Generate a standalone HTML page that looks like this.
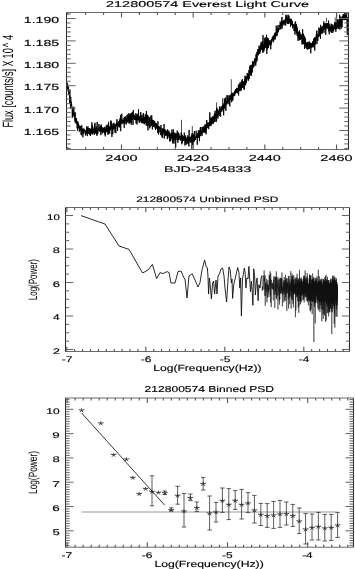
<!DOCTYPE html>
<html><head><meta charset="utf-8"><title>212800574 Everest Light Curve</title>
<style>html,body{margin:0;padding:0;background:#fff;width:355px;height:569px;overflow:hidden;position:relative}
svg text{font-family:"Liberation Sans", sans-serif;text-rendering:geometricPrecision}</style></head>
<body>
<svg width="355" height="569" viewBox="0 0 355 569" style="position:absolute;left:0;top:0;filter:grayscale(1)" font-family='"Liberation Sans", sans-serif'>
<rect width="355" height="569" fill="#fff"/>
<defs><clipPath id="c1"><rect x="67" y="13" width="281" height="136"/></clipPath></defs>
<g clip-path="url(#c1)">
<polyline points="66.80,81.60 67.02,84.13 67.24,83.09 67.46,87.42 67.68,84.53 67.90,89.93 68.12,85.83 68.34,91.77 68.56,87.67 68.78,94.58 69.00,92.83 69.22,95.32 69.44,92.20 69.66,102.76 69.88,89.59 70.10,102.70 70.32,99.84 70.54,108.48 70.76,96.85 70.98,104.72 71.20,101.62 71.42,105.79 71.64,104.10 71.86,107.78 72.08,106.77 72.30,117.65 72.52,107.71 72.74,117.24 72.96,110.31 73.18,114.34 73.40,112.94 73.62,114.29 73.84,106.81 74.06,116.17 74.28,113.41 74.50,116.72 74.72,113.47 74.94,121.55 75.16,112.17 75.38,122.65 75.60,118.15 75.82,122.91 76.04,118.72 76.26,123.83 76.48,117.98 76.70,123.19 76.92,121.12 77.14,128.28 77.36,121.29 77.58,130.66 77.80,121.39 78.02,127.08 78.24,122.83 78.46,128.30 78.68,124.16 78.90,127.69 79.12,125.78 79.34,131.72 79.56,127.20 79.78,129.29 80.00,125.83 80.22,130.89 80.44,126.58 80.66,129.97 80.88,127.06 81.10,134.76 81.32,129.37 81.54,135.31 81.76,125.28 81.98,131.89 82.20,128.64 82.42,130.96 82.64,131.52 82.86,137.29 83.08,128.74 83.30,132.66 83.52,129.96 83.74,134.12 83.96,128.56 84.18,131.91 84.40,129.46 84.62,131.95 84.84,131.53 85.06,132.49 85.28,131.28 85.50,135.46 85.72,130.30 85.94,132.23 86.16,130.13 86.38,133.56 86.60,126.51 86.82,134.12 87.04,128.12 87.26,136.12 87.48,128.02 87.70,131.32 87.92,126.40 88.14,131.30 88.36,130.57 88.58,133.90 88.80,127.98 89.02,131.35 89.24,129.99 89.46,134.50 89.68,128.24 89.90,132.66 90.12,129.26 90.34,136.04 90.56,130.30 90.78,134.66 91.00,128.53 91.22,132.72 91.44,128.83 91.66,133.14 91.88,122.36 92.10,133.81 92.32,125.49 92.54,134.45 92.76,130.00 92.98,133.53 93.20,129.08 93.42,132.69 93.64,131.07 93.86,131.36 94.08,127.41 94.30,134.70 94.52,123.93 94.74,130.99 94.96,122.75 95.18,133.10 95.40,128.13 95.62,132.58 95.84,129.39 96.06,133.81 96.28,126.60 96.50,134.46 96.72,127.89 96.94,135.82 97.16,121.97 97.38,134.10 97.60,129.49 97.82,133.87 98.04,129.95 98.26,130.47 98.48,129.02 98.70,130.77 98.92,123.93 99.14,130.38 99.36,127.38 99.58,131.69 99.80,129.89 100.02,131.15 100.24,125.91 100.46,131.21 100.68,125.91 100.90,135.13 101.12,124.52 101.34,131.85 101.56,125.66 101.78,129.76 102.00,130.33 102.22,133.49 102.44,127.44 102.66,133.00 102.88,130.25 103.10,129.71 103.32,127.93 103.54,132.24 103.76,127.96 103.98,131.78 104.20,127.44 104.42,132.75 104.64,128.35 104.86,134.67 105.08,126.65 105.30,136.36 105.52,128.98 105.74,130.36 105.96,129.28 106.18,132.26 106.40,125.54 106.62,131.29 106.84,127.05 107.06,131.81 107.28,124.55 107.50,131.10 107.72,128.99 107.94,134.83 108.16,126.35 108.38,133.56 108.60,121.88 108.82,132.28 109.04,128.98 109.26,132.28 109.48,126.90 109.70,133.75 109.92,126.03 110.14,130.36 110.36,128.83 110.58,129.30 110.80,120.45 111.02,128.49 111.24,121.50 111.46,128.79 111.68,125.09 111.90,136.95 112.12,125.13 112.34,129.41 112.56,126.56 112.78,134.16 113.00,123.46 113.22,129.08 113.44,126.72 113.66,129.30 113.88,122.76 114.10,128.72 114.32,124.96 114.54,128.14 114.76,124.04 114.98,132.45 115.20,127.01 115.42,129.49 115.64,124.23 115.86,133.15 116.08,123.97 116.30,125.88 116.52,122.14 116.74,125.65 116.96,119.23 117.18,126.68 117.40,124.91 117.62,130.85 117.84,123.27 118.06,127.04 118.28,121.43 118.50,125.62 118.72,121.80 118.94,124.55 119.16,122.94 119.38,127.46 119.60,119.94 119.82,124.96 120.04,118.53 120.26,126.12 120.48,114.95 120.70,131.17 120.92,119.82 121.14,123.02 121.36,119.62 121.58,122.90 121.80,113.69 122.02,124.26 122.24,120.14 122.46,122.16 122.68,119.54 122.90,122.13 123.12,120.37 123.34,122.83 123.56,120.02 123.78,123.74 124.00,117.65 124.22,127.80 124.44,119.37 124.66,121.59 124.88,117.14 125.10,123.88 125.32,116.28 125.54,121.32 125.76,118.94 125.98,120.85 126.20,117.67 126.42,124.41 126.64,120.03 126.86,121.48 127.08,114.76 127.30,121.48 127.52,114.75 127.74,122.51 127.96,117.47 128.18,121.46 128.40,115.97 128.62,121.78 128.84,113.11 129.06,123.71 129.28,114.51 129.50,122.79 129.72,118.41 129.94,120.31 130.16,114.28 130.38,122.05 130.60,113.59 130.82,123.02 131.04,118.96 131.26,124.70 131.48,112.90 131.70,119.91 131.92,118.75 132.14,118.72 132.36,112.05 132.58,119.45 132.80,116.83 133.02,124.89 133.24,110.05 133.46,118.18 133.68,113.89 133.90,119.09 134.12,116.53 134.34,119.79 134.56,115.07 134.78,119.27 135.00,116.08 135.22,120.13 135.44,115.85 135.66,119.57 135.88,113.00 136.10,123.35 136.32,117.14 136.54,120.06 136.76,114.73 136.98,124.47 137.20,115.61 137.42,120.25 137.64,113.92 137.86,117.09 138.08,114.28 138.30,120.17 138.52,109.32 138.74,120.24 138.96,116.81 139.18,122.93 139.40,116.95 139.62,121.32 139.84,115.88 140.06,121.55 140.28,116.73 140.50,120.64 140.72,111.99 140.94,121.26 141.16,115.96 141.38,123.12 141.60,116.99 141.82,119.66 142.04,114.69 142.26,122.14 142.48,118.11 142.70,123.18 142.92,118.91 143.14,123.33 143.36,112.99 143.58,119.78 143.80,114.51 144.02,123.57 144.24,116.84 144.46,124.20 144.68,117.45 144.90,123.15 145.12,119.01 145.34,122.89 145.56,113.85 145.78,122.35 146.00,116.70 146.22,125.59 146.44,111.01 146.66,122.83 146.88,115.53 147.10,125.94 147.32,115.44 147.54,123.72 147.76,114.90 147.98,130.43 148.20,116.70 148.42,125.31 148.64,122.12 148.86,123.72 149.08,120.47 149.30,123.72 149.52,117.31 149.74,128.37 149.96,121.52 150.18,126.98 150.40,121.66 150.62,123.21 150.84,115.74 151.06,124.36 151.28,119.71 151.50,125.68 151.72,115.32 151.94,125.22 152.16,121.73 152.38,129.43 152.60,119.72 152.82,126.25 153.04,121.71 153.26,126.97 153.48,120.19 153.70,125.02 153.92,123.43 154.14,126.03 154.36,120.92 154.58,127.35 154.80,121.41 155.02,125.35 155.24,123.62 155.46,130.01 155.68,122.97 155.90,126.40 156.12,123.69 156.34,128.77 156.56,123.58 156.78,126.49 157.00,125.87 157.22,128.02 157.44,125.32 157.66,132.87 157.88,121.23 158.10,127.70 158.32,126.99 158.54,134.54 158.76,126.08 158.98,127.95 159.20,127.00 159.42,129.06 159.64,126.64 159.86,132.42 160.08,127.65 160.30,130.37 160.52,127.88 160.74,134.62 160.96,124.96 161.18,135.35 161.40,130.82 161.62,129.69 161.84,129.81 162.06,137.28 162.28,128.14 162.50,137.73 162.72,130.95 162.94,134.32 163.16,128.78 163.38,133.14 163.60,130.52 163.82,131.90 164.04,124.09 164.26,138.58 164.48,130.30 164.70,133.35 164.92,129.04 165.14,133.64 165.36,130.61 165.58,135.46 165.80,132.66 166.02,136.05 166.24,132.92 166.46,134.92 166.68,130.58 166.90,133.03 167.12,134.37 167.34,139.06 167.56,129.34 167.78,138.26 168.00,133.19 168.22,136.43 168.44,132.19 168.66,135.52 168.88,130.52 169.10,135.98 169.32,132.45 169.54,140.66 169.76,133.54 169.98,141.54 170.20,134.16 170.42,140.80 170.64,134.39 170.86,140.58 171.08,132.69 171.30,136.34 171.52,134.44 171.74,138.38 171.96,129.53 172.18,138.06 172.40,132.91 172.62,143.37 172.84,133.85 173.06,142.12 173.28,129.38 173.50,140.54 173.72,133.70 173.94,143.68 174.16,132.40 174.38,139.27 174.60,135.73 174.82,140.25 175.04,133.61 175.26,138.25 175.48,133.57 175.70,147.20 175.92,133.37 176.14,138.38 176.36,136.13 176.58,136.87 176.80,133.66 177.02,140.05 177.24,130.52 177.46,138.79 177.68,135.84 177.90,142.76 178.12,132.26 178.34,140.00 178.56,134.77 178.78,140.03 179.00,133.61 179.22,137.89 179.44,137.11 179.66,139.02 179.88,136.02 180.10,139.45 180.32,138.71 180.54,140.52 180.76,135.92 180.98,139.12 181.20,132.57 181.42,139.29 181.64,133.96 181.86,144.26 182.08,137.33 182.30,142.54 182.52,135.23 182.74,141.14 182.96,137.58 183.18,140.81 183.40,137.13 183.62,140.37 183.84,136.14 184.06,140.11 184.28,132.62 184.50,138.57 184.72,137.97 184.94,145.46 185.16,137.86 185.38,143.10 185.60,135.44 185.82,140.37 186.04,138.14 186.26,144.68 186.48,139.34 186.70,139.92 186.92,137.47 187.14,141.00 187.36,139.60 187.58,143.49 187.80,135.35 188.02,141.27 188.24,138.44 188.46,144.10 188.68,136.83 188.90,146.40 189.12,129.98 189.34,141.03 189.56,137.04 189.78,141.09 190.00,136.90 190.22,142.57 190.44,137.41 190.66,139.43 190.88,138.46 191.10,142.20 191.32,135.88 191.54,140.72 191.76,134.59 191.98,143.00 192.20,132.97 192.42,137.70 192.64,133.59 192.86,145.11 193.08,137.36 193.30,140.47 193.52,134.92 193.74,142.05 193.96,133.89 194.18,141.22 194.40,131.06 194.62,140.69 194.84,135.98 195.06,138.73 195.28,136.89 195.50,139.92 195.72,137.37 195.94,137.90 196.16,130.68 196.38,137.77 196.60,135.58 196.82,135.76 197.04,135.04 197.26,144.66 197.48,134.65 197.70,137.06 197.92,132.89 198.14,137.81 198.36,130.36 198.58,137.96 198.80,133.40 199.02,134.91 199.24,133.10 199.46,141.18 199.68,130.18 199.90,135.62 200.12,134.60 200.34,136.23 200.56,127.18 200.78,135.93 201.00,127.08 201.22,134.21 201.44,131.95 201.66,133.87 201.88,130.51 202.10,135.89 202.32,130.41 202.54,131.14 202.76,126.87 202.98,131.79 203.20,127.27 203.42,130.43 203.64,126.39 203.86,132.69 204.08,128.66 204.30,132.71 204.52,127.47 204.74,131.84 204.96,124.43 205.18,128.82 205.40,125.33 205.62,132.49 205.84,124.44 206.06,134.31 206.28,127.03 206.50,129.97 206.72,119.99 206.94,128.14 207.16,125.48 207.38,125.87 207.60,122.86 207.82,127.37 208.04,122.39 208.26,127.34 208.48,123.21 208.70,129.09 208.92,124.52 209.14,124.20 209.36,121.91 209.58,126.05 209.80,112.33 210.02,125.90 210.24,122.56 210.46,122.09 210.68,118.85 210.90,126.17 211.12,117.20 211.34,124.61 211.56,118.20 211.78,122.20 212.00,119.32 212.22,123.87 212.44,117.60 212.66,121.63 212.88,116.11 213.10,123.64 213.32,118.15 213.54,123.40 213.76,116.65 213.98,120.58 214.20,114.73 214.42,121.80 214.64,113.53 214.86,121.81 215.08,110.86 215.30,117.43 215.52,114.02 215.74,119.14 215.96,113.31 216.18,122.10 216.40,109.86 216.62,120.30 216.84,107.59 217.06,116.72 217.28,109.05 217.50,116.73 217.72,112.05 217.94,118.56 218.16,113.10 218.38,114.53 218.60,111.29 218.82,112.54 219.04,109.60 219.26,116.03 219.48,107.17 219.70,111.64 219.92,106.21 220.14,110.71 220.36,108.80 220.58,116.73 220.80,108.88 221.02,111.56 221.24,108.71 221.46,110.95 221.68,106.36 221.90,111.51 222.12,107.60 222.34,109.82 222.56,104.49 222.78,108.82 223.00,106.93 223.22,108.79 223.44,104.71 223.66,115.31 223.88,103.32 224.10,108.36 224.32,98.46 224.54,105.79 224.76,99.47 224.98,108.77 225.20,99.83 225.42,106.40 225.64,97.52 225.86,110.89 226.08,104.86 226.30,103.33 226.52,101.55 226.74,104.69 226.96,95.27 227.18,103.52 227.40,100.26 227.62,102.46 227.84,95.26 228.06,101.30 228.28,98.28 228.50,102.18 228.72,100.11 228.94,104.24 229.16,95.44 229.38,99.52 229.60,95.72 229.82,106.32 230.04,95.99 230.26,99.82 230.48,99.18 230.70,99.84 230.92,94.36 231.14,100.17 231.36,94.05 231.58,102.19 231.80,92.77 232.02,101.12 232.24,92.94 232.46,100.26 232.68,93.80 232.90,100.20 233.12,93.65 233.34,96.17 233.56,94.34 233.78,95.36 234.00,92.36 234.22,94.14 234.44,91.40 234.66,96.10 234.88,90.57 235.10,94.15 235.32,92.05 235.54,92.65 235.76,89.03 235.98,93.14 236.20,89.89 236.42,91.54 236.64,87.88 236.86,92.46 237.08,90.18 237.30,93.42 237.52,88.49 237.74,90.66 237.96,88.24 238.18,91.46 238.40,84.72 238.62,95.49 238.84,85.51 239.06,90.86 239.28,83.72 239.50,88.02 239.72,84.33 239.94,91.28 240.16,82.09 240.38,89.81 240.60,84.51 240.82,89.47 241.04,84.04 241.26,90.64 241.48,80.56 241.70,87.79 241.92,81.22 242.14,86.76 242.36,79.02 242.58,88.03 242.80,83.77 243.02,85.88 243.24,81.41 243.46,84.50 243.68,82.70 243.90,89.17 244.12,81.49 244.34,89.78 244.56,79.60 244.78,83.58 245.00,75.68 245.22,84.44 245.44,79.02 245.66,85.28 245.88,76.67 246.10,80.87 246.32,77.41 246.54,82.76 246.76,76.76 246.98,79.55 247.20,72.94 247.42,78.30 247.64,77.47 247.86,76.10 248.08,73.95 248.30,80.86 248.52,74.24 248.74,79.43 248.96,69.92 249.18,78.83 249.40,72.22 249.62,73.38 249.84,66.35 250.06,73.96 250.28,65.24 250.50,73.32 250.72,66.17 250.94,75.83 251.16,64.79 251.38,75.36 251.60,65.48 251.82,72.71 252.04,64.95 252.26,72.26 252.48,61.54 252.70,67.74 252.92,65.02 253.14,67.00 253.36,60.92 253.58,67.45 253.80,63.69 254.02,66.37 254.24,62.71 254.46,62.83 254.68,58.44 254.90,63.39 255.12,59.20 255.34,63.25 255.56,58.65 255.78,65.69 256.00,54.37 256.22,62.29 256.44,54.06 256.66,57.34 256.88,52.51 257.10,60.75 257.32,51.36 257.54,54.66 257.76,49.50 257.98,54.06 258.20,49.14 258.42,55.34 258.64,49.70 258.86,53.44 259.08,45.58 259.30,52.37 259.52,49.87 259.74,53.96 259.96,46.48 260.18,52.20 260.40,47.81 260.62,49.08 260.84,43.59 261.06,50.09 261.28,41.79 261.50,47.69 261.72,44.05 261.94,49.98 262.16,43.07 262.38,50.11 262.60,41.09 262.82,52.94 263.04,35.08 263.26,47.65 263.48,44.49 263.70,51.92 263.92,45.29 264.14,50.33 264.36,42.50 264.58,48.83 264.80,38.30 265.02,47.92 265.24,37.25 265.46,47.73 265.68,39.47 265.90,46.07 266.12,43.68 266.34,45.56 266.56,34.74 266.78,53.92 267.00,37.19 267.22,49.39 267.44,42.62 267.66,44.22 267.88,38.49 268.10,47.06 268.32,38.57 268.54,48.06 268.76,40.29 268.98,45.16 269.20,42.35 269.42,44.70 269.64,40.49 269.86,43.40 270.08,41.33 270.30,45.95 270.52,41.80 270.74,49.31 270.96,40.19 271.18,44.98 271.40,39.27 271.62,42.68 271.84,39.30 272.06,41.15 272.28,37.04 272.50,40.23 272.72,39.74 272.94,38.91 273.16,35.50 273.38,42.25 273.60,35.95 273.82,40.63 274.04,35.69 274.26,38.51 274.48,33.22 274.70,39.17 274.92,35.87 275.14,39.46 275.36,32.21 275.58,35.90 275.80,33.49 276.02,35.98 276.24,25.66 276.46,34.18 276.68,29.85 276.90,36.30 277.12,27.86 277.34,34.68 277.56,29.05 277.78,29.74 278.00,25.13 278.22,32.29 278.44,28.90 278.66,30.40 278.88,28.36 279.10,30.00 279.32,24.97 279.54,27.38 279.76,26.77 279.98,27.14 280.20,21.51 280.42,29.19 280.64,23.40 280.86,29.23 281.08,23.67 281.30,26.19 281.52,20.60 281.74,24.97 281.96,16.97 282.18,28.60 282.40,21.54 282.62,24.29 282.84,21.72 283.06,25.44 283.28,20.41 283.50,23.92 283.72,21.12 283.94,21.52 284.16,19.79 284.38,22.29 284.60,20.70 284.82,25.28 285.04,20.00 285.26,22.91 285.48,18.11 285.70,25.49 285.92,14.80 286.14,20.79 286.36,16.61 286.58,19.20 286.80,15.23 287.02,23.21 287.24,17.87 287.46,23.58 287.68,18.28 287.90,24.05 288.12,14.73 288.34,23.96 288.56,17.07 288.78,21.92 289.00,15.69 289.22,23.50 289.44,19.30 289.66,21.62 289.88,19.61 290.10,22.43 290.32,19.34 290.54,26.68 290.76,18.72 290.98,23.28 291.20,18.88 291.42,23.37 291.64,23.12 291.86,25.53 292.08,20.68 292.30,24.99 292.52,21.19 292.74,28.38 292.96,25.11 293.18,26.36 293.40,24.02 293.62,25.95 293.84,24.53 294.06,31.10 294.28,26.47 294.50,29.23 294.72,24.60 294.94,34.67 295.16,21.87 295.38,30.55 295.60,21.53 295.82,30.32 296.04,29.59 296.26,32.64 296.48,24.06 296.70,33.47 296.92,26.49 297.14,35.86 297.36,27.97 297.58,34.38 297.80,31.44 298.02,40.88 298.24,31.78 298.46,38.54 298.68,34.03 298.90,34.07 299.12,31.70 299.34,40.23 299.56,30.17 299.78,40.07 300.00,32.68 300.22,39.69 300.44,34.62 300.66,38.29 300.88,36.34 301.10,38.11 301.32,36.16 301.54,38.80 301.76,34.21 301.98,44.22 302.20,37.31 302.42,40.92 302.64,29.28 302.86,44.41 303.08,38.90 303.30,39.87 303.52,33.71 303.74,44.03 303.96,38.50 304.18,42.70 304.40,35.79 304.62,48.85 304.84,40.84 305.06,44.88 305.28,37.71 305.50,45.99 305.72,41.66 305.94,47.78 306.16,43.53 306.38,45.64 306.60,43.03 306.82,49.09 307.04,42.41 307.26,47.23 307.48,42.02 307.70,49.62 307.92,42.40 308.14,46.97 308.36,43.79 308.58,48.79 308.80,42.64 309.02,48.68 309.24,41.26 309.46,48.48 309.68,43.10 309.90,47.21 310.12,44.73 310.34,47.40 310.56,42.69 310.78,53.30 311.00,45.32 311.22,47.72 311.44,43.27 311.66,46.49 311.88,44.70 312.10,47.41 312.32,42.52 312.54,46.56 312.76,41.05 312.98,43.70 313.20,42.43 313.42,47.31 313.64,39.02 313.86,44.76 314.08,38.10 314.30,44.57 314.52,37.70 314.74,50.58 314.96,37.43 315.18,43.57 315.40,37.24 315.62,44.49 315.84,37.38 316.06,40.61 316.28,34.35 316.50,38.72 316.72,30.91 316.94,43.94 317.16,34.58 317.38,37.77 317.60,34.14 317.82,40.88 318.04,34.41 318.26,37.08 318.48,34.85 318.70,34.58 318.92,27.54 319.14,34.80 319.36,33.91 319.58,36.37 319.80,28.40 320.02,34.16 320.24,29.73 320.46,38.77 320.68,24.86 320.90,34.10 321.12,30.27 321.34,31.36 321.56,27.50 321.78,33.62 322.00,26.88 322.22,33.43 322.44,25.96 322.66,28.54 322.88,26.05 323.10,30.98 323.32,27.31 323.54,27.87 323.76,21.51 323.98,32.91 324.20,23.16 324.42,29.32 324.64,23.57 324.86,28.30 325.08,26.08 325.30,27.34 325.52,23.94 325.74,34.92 325.96,22.81 326.18,26.02 326.40,23.85 326.62,27.89 326.84,23.24 327.06,29.16 327.28,23.24 327.50,28.04 327.72,25.80 327.94,28.09 328.16,23.11 328.38,28.86 328.60,20.62 328.82,31.32 329.04,27.30 329.26,34.30 329.48,25.91 329.70,29.96 329.92,23.71 330.14,30.56 330.36,26.65 330.58,30.46 330.80,26.40 331.02,32.12 331.24,26.99 331.46,32.74 331.68,23.82 331.90,31.34 332.12,25.03 332.34,29.79 332.56,26.66 332.78,32.88 333.00,24.58 333.22,30.91 333.44,28.08 333.66,31.32 333.88,26.43 334.10,29.08 334.32,27.58 334.54,28.99 334.76,22.04 334.98,29.02 335.20,23.83 335.42,29.44 335.64,23.20 335.86,31.76 336.08,22.35 336.30,28.99 336.52,25.07 336.74,26.38 336.96,25.05 337.18,28.66 337.40,19.48 337.62,26.09 337.84,23.98 338.06,26.97 338.28,24.57 338.50,28.74 338.72,19.52 338.94,26.74 339.16,22.28 339.38,23.83 339.60,14.69 339.82,29.61 340.04,18.47 340.26,26.36 340.48,17.79 340.70,23.70 340.92,16.41 341.14,28.56 341.36,19.63 341.58,23.80 341.80,18.56 342.02,27.39 342.24,17.37 342.46,20.08 342.68,16.02 342.90,18.51 343.12,14.56 343.34,18.01 343.56,13.96 343.78,19.87 344.00,16.97 344.22,20.19 344.44,15.36 344.66,17.37 344.88,9.40 345.10,18.17 345.32,14.64 345.54,19.94 345.76,10.54 345.98,17.84 346.20,16.35 346.42,16.98 346.64,12.93 346.86,19.94 347.08,18.93 347.30,24.03 347.32,19.00 347.75,33.00 347.64,22.00 347.78,35.00 347.22,25.00 347.61,31.00 347.46,27.00" fill="none" stroke="#000" stroke-width="0.9" stroke-linejoin="round" />
<line x1="181.50" y1="135.00" x2="181.50" y2="119.80" stroke="#000" stroke-width="0.7"/>
<line x1="192.30" y1="135.00" x2="192.30" y2="126.10" stroke="#000" stroke-width="0.7"/>
<line x1="191.50" y1="142.00" x2="191.50" y2="149.40" stroke="#000" stroke-width="0.7"/>
<line x1="193.00" y1="142.00" x2="193.00" y2="149.40" stroke="#000" stroke-width="0.7"/>
<line x1="200.00" y1="131.00" x2="200.00" y2="127.50" stroke="#000" stroke-width="0.7"/>
<line x1="216.60" y1="110.00" x2="216.60" y2="102.40" stroke="#000" stroke-width="0.7"/>
<line x1="222.50" y1="104.00" x2="222.50" y2="98.20" stroke="#000" stroke-width="0.7"/>
<line x1="231.30" y1="93.20" x2="231.30" y2="79.20" stroke="#000" stroke-width="0.7"/>
<line x1="317.00" y1="34.00" x2="317.00" y2="30.20" stroke="#000" stroke-width="0.7"/>
<line x1="326.50" y1="22.00" x2="326.50" y2="17.90" stroke="#000" stroke-width="0.7"/>
<line x1="335.20" y1="24.00" x2="335.20" y2="17.40" stroke="#000" stroke-width="0.7"/>
<line x1="336.70" y1="24.00" x2="336.70" y2="13.50" stroke="#000" stroke-width="0.7"/>
<line x1="344.50" y1="15.00" x2="344.50" y2="13.00" stroke="#000" stroke-width="0.7"/>
</g>
<line x1="347.30" y1="17.00" x2="347.30" y2="34.50" stroke="#111" stroke-width="1.3"/>
<path d="M66.5,12.5V149.5M348.5,12.5V149.5" stroke="#2a2a2a" stroke-width="1.05" fill="none"/>
<path d="M66.0,12.5H349.0M66.0,149.5H349.0" stroke="#6a6a6a" stroke-width="1" fill="none"/>
<path d="M67.75,149.5v-2.50M67.75,12.5v2.50M85.67,149.5v-2.50M85.67,12.5v2.50M103.58,149.5v-2.50M103.58,12.5v2.50M121.50,149.5v-5.00M121.50,12.5v5.00M139.42,149.5v-2.50M139.42,12.5v2.50M157.33,149.5v-2.50M157.33,12.5v2.50M175.25,149.5v-2.50M175.25,12.5v2.50M193.17,149.5v-5.00M193.17,12.5v5.00M211.08,149.5v-2.50M211.08,12.5v2.50M229.00,149.5v-2.50M229.00,12.5v2.50M246.92,149.5v-2.50M246.92,12.5v2.50M264.83,149.5v-5.00M264.83,12.5v5.00M282.75,149.5v-2.50M282.75,12.5v2.50M300.66,149.5v-2.50M300.66,12.5v2.50M318.58,149.5v-2.50M318.58,12.5v2.50M336.50,149.5v-5.00M336.50,12.5v5.00" stroke="#555" stroke-width="1.1" fill="none"/>
<path d="M66.5,148.42h4.20M348.5,148.42h-4.20M66.5,143.94h4.20M348.5,143.94h-4.20M66.5,139.46h4.20M348.5,139.46h-4.20M66.5,134.98h4.20M348.5,134.98h-4.20M66.5,130.50h9.20M348.5,130.50h-9.20M66.5,126.02h4.20M348.5,126.02h-4.20M66.5,121.54h4.20M348.5,121.54h-4.20M66.5,117.06h4.20M348.5,117.06h-4.20M66.5,112.58h4.20M348.5,112.58h-4.20M66.5,108.10h9.20M348.5,108.10h-9.20M66.5,103.62h4.20M348.5,103.62h-4.20M66.5,99.14h4.20M348.5,99.14h-4.20M66.5,94.66h4.20M348.5,94.66h-4.20M66.5,90.18h4.20M348.5,90.18h-4.20M66.5,85.70h9.20M348.5,85.70h-9.20M66.5,81.22h4.20M348.5,81.22h-4.20M66.5,76.74h4.20M348.5,76.74h-4.20M66.5,72.26h4.20M348.5,72.26h-4.20M66.5,67.78h4.20M348.5,67.78h-4.20M66.5,63.30h9.20M348.5,63.30h-9.20M66.5,58.82h4.20M348.5,58.82h-4.20M66.5,54.34h4.20M348.5,54.34h-4.20M66.5,49.86h4.20M348.5,49.86h-4.20M66.5,45.38h4.20M348.5,45.38h-4.20M66.5,40.90h9.20M348.5,40.90h-9.20M66.5,36.42h4.20M348.5,36.42h-4.20M66.5,31.94h4.20M348.5,31.94h-4.20M66.5,27.46h4.20M348.5,27.46h-4.20M66.5,22.98h4.20M348.5,22.98h-4.20M66.5,18.50h9.20M348.5,18.50h-9.20M66.5,14.02h4.20M348.5,14.02h-4.20" stroke="#666" stroke-width="1" fill="none"/>
<polyline points="81.00,215.60 105.00,224.00 119.00,246.00 129.00,249.40 142.60,273.00 148.00,270.00 152.40,264.40 156.60,278.60 160.00,272.60 163.00,273.60 167.00,271.60 169.00,272.60 171.00,283.00 175.00,283.00 178.00,271.60 181.00,271.00 184.00,278.00 185.00,279.00 187.00,298.00 189.00,276.00 190.60,275.00 192.00,273.60 195.00,280.00 198.00,287.00 200.00,282.50 202.00,270.00 204.60,260.00 206.00,266.00 207.40,268.00 208.00,277.00 208.60,294.00 209.40,278.00 210.60,289.00 211.40,299.00 212.60,283.00 213.60,281.00 214.60,294.00 216.00,280.00 217.00,294.00 218.00,276.00 219.40,274.00 221.00,269.00 222.60,268.00 224.00,276.00 225.00,288.00 226.60,302.00 228.00,280.00 229.00,267.00 230.20,270.00 231.40,283.00 232.00,279.00 232.60,298.40 233.70,284.70 235.40,277.90 236.60,272.10 237.70,267.60 238.90,272.10 239.80,288.10 240.60,277.90 241.40,316.10 242.50,277.90 243.40,274.40 244.30,268.10 245.10,272.10 245.90,288.10 246.90,277.90 248.00,279.00 248.90,266.40 249.70,279.00 250.50,291.60 251.40,281.30 252.30,292.70 252.90,305.30 253.70,268.70 254.60,275.60 255.40,295.00 256.20,283.60 257.10,277.90 258.10,300.70 258.90,284.70 260.00,288.10 261.10,277.90 261.90,275.60" fill="none" stroke="#111" stroke-width="0.9" stroke-linejoin="round" />
<polyline points="261.90,275.60 262.26,290.84 262.44,286.42 262.61,287.79 262.78,289.87 262.95,288.45 263.12,280.15 263.29,275.42 263.46,275.84 263.63,283.02 263.80,287.53 263.96,289.56 264.13,270.30 264.29,275.26 264.46,281.62 264.62,276.78 264.78,295.82 264.94,280.61 265.10,275.16 265.26,305.66 265.42,282.76 265.58,288.69 265.74,284.04 265.90,295.74 266.05,282.34 266.21,291.81 266.36,285.93 266.52,279.03 266.67,278.85 266.82,284.11 266.97,302.28 267.13,283.65 267.28,284.37 267.43,297.83 267.58,285.06 267.73,290.27 267.87,280.13 268.02,286.19 268.17,285.08 268.31,293.37 268.46,287.16 268.61,291.81 268.75,284.79 268.89,297.15 269.04,293.10 269.18,274.74 269.32,280.95 269.46,285.48 269.60,277.36 269.74,275.77 269.88,289.80 270.02,272.09 270.16,271.28 270.30,295.37 270.44,278.95 270.57,302.70 270.71,273.24 270.85,284.54 270.98,290.86 271.12,290.82 271.25,307.10 271.38,282.20 271.52,279.83 271.65,283.43 271.78,288.44 271.91,283.22 272.05,286.59 272.18,288.12 272.31,288.26 272.44,289.31 272.57,282.77 272.69,283.85 272.82,289.09 272.95,285.73 273.08,286.53 273.20,284.27 273.33,300.46 273.46,279.59 273.58,290.62 273.71,284.95 273.83,276.16 273.96,282.50 274.08,294.62 274.20,290.67 274.33,283.31 274.45,282.82 274.57,277.22 274.69,276.73 274.81,307.95 274.93,290.89 275.05,289.30 275.17,283.87 275.29,294.45 275.41,290.00 275.53,276.78 275.65,291.30 275.77,288.15 275.88,277.59 276.00,284.95 276.12,285.48 276.23,298.05 276.35,271.38 276.46,299.15 276.58,297.41 276.69,276.59 276.81,284.83 276.92,293.19 277.03,295.77 277.15,278.73 277.26,284.87 277.37,287.71 277.48,285.72 277.60,286.27 277.71,281.91 277.82,289.26 277.93,309.41 278.04,277.33 278.15,295.43 278.26,294.51 278.37,287.27 278.48,289.61 278.58,291.48 278.69,280.78 278.80,280.08 278.91,283.94 279.01,287.79 279.12,300.05 279.23,300.44 279.33,291.44 279.44,278.85 279.54,304.66 279.65,284.86 279.75,299.66 279.86,297.99 279.96,285.66 280.07,283.94 280.17,277.74 280.27,287.58 280.38,293.83 280.48,287.48 280.58,278.40 280.68,286.42 280.78,290.51 280.89,293.53 280.99,279.46 281.09,277.87 281.19,279.35 281.29,292.33 281.39,278.20 281.49,289.45 281.59,283.96 281.69,293.25 281.78,279.03 281.88,289.58 281.98,272.52 282.08,288.01 282.18,291.42 282.27,293.33 282.37,306.37 282.47,292.58 282.56,286.98 282.66,295.11 282.76,289.27 282.85,289.44 282.95,288.61 283.04,290.29 283.14,282.34 283.23,293.87 283.33,289.18 283.42,280.34 283.52,281.79 283.61,283.42 283.70,288.49 283.80,302.40 283.89,285.11 283.98,284.82 284.07,292.03 284.16,282.59 284.26,277.05 284.35,290.66 284.44,281.82 284.53,290.91 284.62,294.88 284.71,300.62 284.80,290.98 284.89,280.19 284.98,290.08 285.07,294.61 285.16,288.79 285.25,279.93 285.34,282.17 285.43,274.84 285.52,280.95 285.61,297.22 285.69,281.30 285.78,288.11 285.87,301.14 285.96,279.00 286.04,288.30 286.13,291.11 286.22,283.59 286.30,284.38 286.39,288.84 286.48,288.50 286.56,290.51 286.65,294.01 286.73,277.87 286.82,311.02 286.90,282.41 286.99,284.10 287.07,288.22 287.16,278.82 287.24,293.23 287.33,283.42 287.41,286.54 287.49,288.36 287.58,284.69 287.66,282.29 287.74,286.34 287.83,287.89 287.91,292.37 287.99,285.16 288.07,283.29 288.15,283.10 288.24,284.44 288.32,299.14 288.40,284.74 288.48,276.11 288.56,308.53 288.64,289.12 288.72,289.63 288.80,285.31 288.88,280.70 288.96,279.85 289.04,275.77 289.12,297.75 289.20,285.48 289.28,295.07 289.36,288.62 289.44,295.25 289.52,284.68 289.60,304.33 289.68,279.33 289.75,284.91 289.83,296.63 289.91,282.12 289.99,282.69 290.07,296.54 290.14,296.37 290.22,287.04 290.30,289.71 290.37,288.58 290.45,287.77 290.53,284.46 290.60,286.56 290.68,284.93 290.76,279.05 290.83,271.04 290.91,285.81 290.98,291.35 291.06,282.32 291.13,308.64 291.21,287.35 291.28,287.63 291.36,292.87 291.43,279.43 291.51,285.50 291.58,287.83 291.65,295.57 291.73,276.05 291.80,299.24 291.88,281.73 291.95,283.06 292.02,283.06 292.10,300.30 292.17,285.30 292.24,273.68 292.31,282.31 292.39,284.15 292.46,282.32 292.53,276.78 292.60,294.45 292.67,287.95 292.75,275.95 292.82,299.40 292.89,279.49 292.96,302.34 293.03,303.86 293.10,283.91 293.17,290.89 293.24,288.10 293.31,297.35 293.39,307.44 293.46,284.50 293.53,282.70 293.60,279.70 293.67,293.05 293.73,275.25 293.80,288.42 293.87,285.45 293.94,288.04 294.01,284.70 294.08,293.84 294.15,285.16 294.22,291.34 294.29,294.26 294.36,284.27 294.42,285.11 294.49,287.05 294.56,290.95 294.63,291.68 294.70,285.98 294.76,289.82 294.83,278.75 294.90,290.20 294.97,283.12 295.03,293.88 295.10,287.02 295.17,284.71 295.23,277.44 295.30,286.59 295.37,285.68 295.43,317.20 295.50,296.52 295.56,293.84 295.63,283.82 295.70,291.44 295.76,285.35 295.83,280.13 295.89,310.53 295.96,279.00 296.02,284.06 296.09,295.56 296.15,285.55 296.22,290.26 296.28,295.28 296.35,297.40 296.41,282.67 296.48,277.37 296.54,284.65 296.60,287.08 296.67,286.60 296.73,285.63 296.80,284.80 296.86,289.75 296.92,294.72 296.99,292.05 297.05,295.55 297.11,273.68 297.18,286.72 297.24,283.93 297.30,283.50 297.36,291.25 297.43,280.40 297.49,282.35 297.55,295.88 297.61,281.58 297.68,301.26 297.74,291.90 297.80,287.37 297.86,283.72 297.92,294.38 297.98,278.10 298.05,295.68 298.11,297.46 298.17,286.70 298.23,307.88 298.29,292.23 298.35,279.48 298.41,279.59 298.47,282.52 298.53,285.00 298.59,288.67 298.65,294.57 298.71,279.47 298.77,312.82 298.83,306.60 298.89,283.85 298.95,286.64 299.01,305.82 299.07,305.72 299.13,287.63 299.19,290.59 299.25,281.02 299.31,289.52 299.37,291.29 299.43,287.78 299.49,269.92 299.55,290.97 299.61,277.28 299.66,279.06 299.72,281.14 299.78,301.35 299.84,284.32 299.90,291.29 299.96,282.54 300.01,294.99 300.07,285.99 300.13,300.60 300.19,296.76 300.24,282.33 300.30,290.66 300.36,300.75 300.42,291.23 300.47,304.19 300.53,278.55 300.59,287.53 300.65,285.40 300.70,287.14 300.76,294.52 300.82,290.47 300.87,291.68 300.93,289.34 300.98,287.54 301.04,280.55 301.10,294.37 301.15,285.17 301.21,287.79 301.27,302.21 301.32,277.53 301.38,283.33 301.43,289.81 301.49,279.26 301.54,295.66 301.60,290.30 301.65,290.03 301.71,286.29 301.76,287.59 301.82,285.10 301.87,281.36 301.93,282.44 301.98,295.64 302.04,294.48 302.09,292.52 302.15,300.37 302.20,294.44 302.26,293.19 302.31,292.09 302.37,293.07 302.42,281.34 302.47,289.98 302.53,286.63 302.58,294.68 302.63,291.07 302.69,283.80 302.74,282.89 302.80,293.08 302.85,282.46 302.90,291.44 302.96,279.14 303.01,292.72 303.06,285.58 303.11,285.54 303.17,291.63 303.22,291.08 303.27,291.65 303.33,293.50 303.38,288.48 303.43,299.72 303.48,287.43 303.54,280.30 303.59,275.79 303.64,289.83 303.69,283.41 303.74,277.93 303.80,279.06 303.85,295.92 303.90,285.66 303.95,298.69 304.00,280.94 304.05,293.95 304.11,302.57 304.16,281.74 304.21,294.30 304.26,294.98 304.31,275.55 304.36,279.86 304.41,285.19 304.46,286.83 304.51,277.93 304.57,280.89 304.62,285.57 304.67,291.42 304.72,286.13 304.77,296.67 304.82,295.76 304.87,292.99 304.92,292.93 304.97,276.94 305.02,283.52 305.07,288.98 305.12,270.51 305.17,292.22 305.22,292.61 305.27,288.49 305.32,290.63 305.37,283.30 305.42,288.92 305.47,297.14 305.52,284.49 305.57,290.77 305.62,284.43 305.66,284.27 305.71,279.13 305.76,293.52 305.81,280.64 305.86,289.77 305.91,288.43 305.96,289.50 306.01,287.24 306.06,279.18 306.10,289.80 306.15,294.51 306.20,290.29 306.25,282.85 306.30,300.67 306.35,295.12 306.39,282.30 306.44,291.58 306.49,297.02 306.54,287.69 306.59,295.34 306.63,289.13 306.68,288.85 306.73,290.92 306.78,285.89 306.82,285.63 306.87,277.98 306.92,296.86 306.97,276.39 307.01,291.48 307.06,282.85 307.11,296.46 307.16,294.61 307.20,272.92 307.25,286.26 307.30,280.21 307.34,287.81 307.39,294.81 307.44,301.81 307.48,289.41 307.53,292.14 307.58,301.13 307.62,291.21 307.67,293.67 307.72,286.93 307.76,289.26 307.81,282.69 307.85,282.29 307.90,277.99 307.95,288.74 307.99,287.26 308.04,292.55 308.08,282.71 308.13,291.69 308.18,283.62 308.22,291.76 308.27,285.36 308.31,290.72 308.36,305.35 308.40,294.84 308.45,293.12 308.49,293.08 308.54,299.75 308.58,288.51 308.63,284.04 308.67,286.34 308.72,292.06 308.76,298.70 308.81,294.91 308.85,287.18 308.90,284.06 308.94,299.96 308.99,286.28 309.03,292.67 309.08,286.10 309.12,289.03 309.17,291.79 309.21,287.76 309.25,296.92 309.30,290.63 309.34,287.21 309.39,279.98 309.43,292.96 309.48,301.46 309.52,274.36 309.56,287.29 309.61,283.24 309.65,300.82 309.69,286.42 309.74,295.80 309.78,298.62 309.83,275.60 309.87,297.10 309.91,288.91 309.96,288.86 310.00,289.53 310.04,310.42 310.09,287.05 310.13,292.23 310.17,275.55 310.22,287.31 310.26,292.73 310.30,284.71 310.34,276.39 310.39,296.59 310.43,311.40 310.47,294.62 310.52,299.29 310.56,279.77 310.60,288.49 310.64,296.67 310.69,288.38 310.73,294.97 310.77,279.91 310.81,300.95 310.85,284.14 310.90,284.87 310.94,289.53 310.98,291.79 311.02,275.20 311.07,291.37 311.11,309.42 311.15,304.10 311.19,305.48 311.23,298.52 311.27,283.85 311.32,290.65 311.36,300.22 311.40,287.80 311.44,293.66 311.48,290.29 311.52,293.60 311.57,286.53 311.61,284.07 311.65,293.40 311.69,279.42 311.73,292.68 311.77,287.72 311.81,283.72 311.85,300.69 311.90,285.30 311.94,301.22 311.98,284.09 312.02,282.83 312.06,285.22 312.10,290.11 312.14,291.92 312.18,314.14 312.22,285.91 312.26,282.58 312.30,279.90 312.34,296.51 312.38,302.14 312.42,283.17 312.46,281.61 312.50,278.65 312.54,286.10 312.59,292.79 312.63,273.56 312.67,291.13 312.71,293.46 312.75,287.95 312.79,284.57 312.83,280.22 312.87,296.62 312.91,282.98 312.94,288.28 312.98,287.79 313.02,297.09 313.06,301.40 313.10,298.77 313.14,280.58 313.18,293.20 313.22,292.55 313.26,291.70 313.30,279.84 313.34,290.09 313.38,296.15 313.42,299.06 313.46,297.53 313.50,281.99 313.54,302.08 313.58,277.28 313.61,294.76 313.65,283.70 313.69,290.36 313.73,286.18 313.77,279.41 313.81,289.16 313.85,284.79 313.89,342.00 313.92,308.41 313.96,282.41 314.00,282.82 314.04,277.68 314.08,282.00 314.12,296.19 314.16,283.78 314.19,287.37 314.23,288.54 314.27,294.74 314.31,295.14 314.35,306.88 314.39,286.66 314.42,291.58 314.46,282.00 314.50,282.82 314.54,302.23 314.58,285.41 314.61,287.79 314.65,286.98 314.69,282.05 314.73,283.93 314.76,289.34 314.80,286.16 314.84,280.59 314.88,289.85 314.91,288.48 314.95,304.62 314.99,299.45 315.03,290.80 315.06,301.35 315.10,300.68 315.14,302.64 315.18,291.75 315.21,291.15 315.25,323.30 315.29,283.68 315.33,286.09 315.36,292.00 315.40,284.67 315.44,281.62 315.47,287.69 315.51,282.52 315.55,290.37 315.58,277.91 315.62,282.75 315.66,294.52 315.69,291.53 315.73,281.08 315.77,294.53 315.80,294.33 315.84,297.40 315.88,302.43 315.91,285.04 315.95,292.09 315.99,284.20 316.02,289.35 316.06,281.63 316.10,291.84 316.13,287.24 316.17,281.91 316.20,288.23 316.24,293.17 316.28,289.72 316.31,278.80 316.35,290.69 316.38,285.09 316.42,295.67 316.46,280.80 316.49,284.30 316.53,283.19 316.56,290.62 316.60,281.22 316.64,290.55 316.67,289.66 316.71,292.15 316.74,288.81 316.78,288.96 316.81,294.15 316.85,283.84 316.88,297.32 316.92,290.70 316.95,276.15 316.99,300.27 317.03,299.93 317.06,278.30 317.10,303.22 317.13,296.68 317.17,286.04 317.20,295.22 317.24,284.09 317.27,286.05 317.31,284.21 317.34,294.09 317.38,288.54 317.41,292.84 317.45,292.72 317.48,299.60 317.52,289.86 317.55,294.52 317.59,298.10 317.62,286.53 317.66,284.38 317.69,283.35 317.72,295.86 317.76,293.19 317.79,288.15 317.83,292.25 317.86,283.24 317.90,308.06 317.93,292.60 317.97,287.63 318.00,288.54 318.03,291.89 318.07,290.09 318.10,287.45 318.14,292.05 318.17,293.07 318.21,281.70 318.24,291.28 318.27,283.49 318.31,310.26 318.34,269.79 318.38,287.05 318.41,293.19 318.44,291.80 318.48,299.66 318.51,295.59 318.54,301.58 318.58,296.02 318.61,285.14 318.65,286.95 318.68,286.69 318.71,288.78 318.75,293.05 318.78,285.21 318.81,281.22 318.85,297.20 318.88,287.56 318.91,292.25 318.95,282.56 318.98,295.66 319.01,295.08 319.05,297.14 319.08,286.04 319.11,280.61 319.15,291.13 319.18,289.18 319.21,288.64 319.25,281.93 319.28,294.00 319.31,287.14 319.35,276.34 319.38,285.71 319.41,283.93 319.44,297.70 319.48,300.98 319.51,283.39 319.54,300.58 319.58,302.54 319.61,284.74 319.64,286.49 319.67,285.51 319.71,289.22 319.74,286.70 319.77,287.07 319.80,309.13 319.84,281.39 319.87,296.62 319.90,312.15 319.93,293.34 319.97,292.19 320.00,292.00 320.03,280.27 320.06,305.55 320.10,296.65 320.13,281.44 320.16,295.67 320.19,299.74 320.22,290.59 320.26,279.10 320.29,292.56 320.32,284.43 320.35,288.02 320.39,296.97 320.42,283.95 320.45,301.03 320.48,287.03 320.51,293.26 320.55,295.12 320.58,289.94 320.61,285.07 320.64,292.98 320.67,294.65 320.70,282.88 320.74,302.09 320.77,284.38 320.80,299.81 320.83,281.30 320.86,285.28 320.89,293.60 320.93,299.59 320.96,288.09 320.99,284.45 321.02,295.90 321.05,300.75 321.08,288.41 321.11,287.72 321.15,299.77 321.18,297.95 321.21,279.38 321.24,305.17 321.27,296.40 321.30,281.67 321.33,282.91 321.36,286.85 321.39,309.37 321.43,307.11 321.46,292.53 321.49,298.50 321.52,292.07 321.55,299.96 321.58,286.31 321.61,294.71 321.64,292.04 321.67,285.56 321.70,298.17 321.73,278.49 321.77,292.32 321.80,299.41 321.83,321.40 321.86,287.83 321.89,282.69 321.92,284.62 321.95,294.00 321.98,291.46 322.01,292.39 322.04,302.15 322.07,295.95 322.10,286.16 322.13,293.37 322.16,295.18 322.19,292.39 322.22,294.83 322.25,293.15 322.28,286.85 322.31,293.65 322.34,291.06 322.37,285.13 322.41,294.34 322.44,301.75 322.47,290.91 322.50,296.45 322.53,286.35 322.56,294.31 322.59,297.45 322.62,301.14 322.65,309.47 322.68,293.25 322.71,283.81 322.74,292.95 322.77,300.75 322.80,296.15 322.82,285.63 322.85,301.55 322.88,292.43 322.91,287.83 322.94,291.26 322.97,314.29 323.00,307.05 323.03,283.97 323.06,279.31 323.09,281.68 323.12,290.45 323.15,289.20 323.18,291.36 323.21,296.86 323.24,281.68 323.27,318.87 323.30,296.18 323.33,293.06 323.36,279.30 323.39,292.05 323.42,300.24 323.45,296.85 323.47,290.02 323.50,292.03 323.53,283.88 323.56,294.21 323.59,287.93 323.62,296.83 323.65,279.52 323.68,295.90 323.71,286.41 323.74,285.57 323.77,283.04 323.79,288.34 323.82,290.63 323.85,292.77 323.88,295.70 323.91,285.01 323.94,298.12 323.97,292.95 324.00,310.47 324.03,285.36 324.05,291.33 324.08,305.05 324.11,303.90 324.14,299.48 324.17,295.79 324.20,314.47 324.23,313.80 324.26,312.19 324.28,293.69 324.31,291.01 324.34,290.62 324.37,297.10 324.40,297.83 324.43,294.60 324.45,296.50 324.48,282.19 324.51,284.62 324.54,280.42 324.57,300.73 324.60,286.15 324.63,277.60 324.65,301.58 324.68,285.09 324.71,293.66 324.74,315.53 324.77,283.16 324.79,288.04 324.82,282.69 324.85,294.64 324.88,288.04 324.91,299.50 324.93,286.78 324.96,280.99 324.99,294.29 325.02,286.20 325.05,291.57 325.07,288.46 325.10,293.24 325.13,287.67 325.16,283.93 325.19,288.85 325.21,295.93 325.24,296.70 325.27,286.04 325.30,287.23 325.32,285.05 325.35,297.80 325.38,291.58 325.41,281.56 325.44,321.75 325.46,297.56 325.49,276.23 325.52,292.90 325.55,295.73 325.57,283.80 325.60,300.30 325.63,295.90 325.66,278.87 325.68,298.33 325.71,283.32 325.74,290.82 325.77,297.82 325.79,293.69 325.82,296.14 325.85,294.17 325.87,283.14 325.90,289.59 325.93,299.68 325.96,287.32 325.98,296.46 326.01,302.55 326.04,289.20 326.07,274.93 326.09,290.68 326.12,291.61 326.15,284.39 326.17,301.20 326.20,300.04 326.23,299.68 326.25,285.86 326.28,320.55 326.31,289.31 326.34,287.93 326.36,291.34 326.39,300.11 326.42,287.35 326.44,286.16 326.47,291.29 326.50,285.98 326.52,298.89 326.55,301.05 326.58,302.19 326.60,294.84 326.63,303.64 326.66,288.87 326.68,292.49 326.71,279.64 326.74,287.30 326.76,287.78 326.79,284.08 326.82,292.51 326.84,281.79 326.87,294.98 326.90,296.86 326.92,290.61 326.95,283.72 326.98,283.50 327.00,305.44 327.03,284.40 327.05,303.08 327.08,291.63 327.11,285.21 327.13,295.67 327.16,307.14 327.19,280.62 327.21,293.68 327.24,294.48 327.26,312.80 327.29,309.74 327.32,282.37 327.34,293.49 327.37,297.25 327.40,296.44 327.42,300.83 327.45,300.07 327.47,287.65 327.50,301.60 327.53,276.91 327.55,293.16 327.58,290.89 327.60,282.71 327.63,298.33 327.66,283.49 327.68,291.05 327.71,291.06 327.73,289.35 327.76,291.75 327.78,299.77 327.81,279.99 327.84,287.28 327.86,299.40 327.89,313.17 327.91,291.99 327.94,297.11 327.96,280.36 327.99,298.33 328.02,290.64 328.04,291.67 328.07,285.27 328.09,298.66 328.12,295.35 328.14,292.32 328.17,289.12 328.19,292.29 328.22,295.21 328.25,284.53 328.27,284.81 328.30,284.94 328.32,300.70 328.35,290.53 328.37,280.82 328.40,289.89 328.42,295.45 328.45,286.42 328.47,298.56 328.50,280.56 328.52,284.21 328.55,289.72 328.57,284.34 328.60,316.41 328.63,283.12 328.65,302.17 328.68,292.76 328.70,296.96 328.73,283.10 328.75,304.06 328.78,293.60 328.80,309.96 328.83,284.12 328.85,290.27 328.88,283.64 328.90,311.47 328.93,292.63 328.95,305.94 328.98,290.60 329.00,295.30 329.03,289.32 329.05,298.01 329.08,292.81 329.10,281.71 329.12,280.02 329.15,284.63 329.17,294.04 329.20,291.63 329.22,285.03 329.25,289.13 329.27,284.47 329.30,298.12 329.32,284.48 329.35,297.98 329.37,286.79 329.40,291.66 329.42,283.28 329.45,296.66 329.47,296.01 329.50,290.50 329.52,295.97 329.54,286.36 329.57,291.03 329.59,297.58 329.62,299.31 329.64,295.55 329.67,298.89 329.69,311.89 329.72,283.18 329.74,285.65 329.76,287.97 329.79,312.52 329.81,294.93 329.84,291.18 329.86,286.63 329.89,291.28 329.91,289.61 329.93,298.69 329.96,289.31 329.98,287.24 330.01,293.82 330.03,285.02 330.05,299.67 330.08,287.23 330.10,285.84 330.13,288.70 330.15,297.72 330.18,286.48 330.20,300.21 330.22,291.84 330.25,294.37 330.27,297.14 330.30,292.15 330.32,308.29 330.34,297.30 330.37,283.87 330.39,287.25 330.42,297.89 330.44,295.45 330.46,289.78 330.49,288.92 330.51,291.38 330.53,287.68 330.56,292.58 330.58,279.40 330.61,289.03 330.63,302.95 330.65,300.84 330.68,307.96 330.70,295.15 330.72,281.40 330.75,296.39 330.77,286.11 330.80,308.63 330.82,279.68 330.84,292.17 330.87,301.02 330.89,294.10 330.91,292.72 330.94,287.01 330.96,290.54 330.98,301.24 331.01,294.25 331.03,297.19 331.05,287.62 331.08,289.63 331.10,278.26 331.12,286.02 331.15,299.14 331.17,297.82 331.19,293.75 331.22,285.40 331.24,295.20 331.26,289.53 331.29,283.34 331.31,301.96 331.33,288.89 331.36,285.56 331.38,294.48 331.40,291.44 331.43,286.63 331.45,286.59 331.47,287.01 331.50,287.30 331.52,285.92 331.54,294.05 331.57,293.32 331.59,299.11 331.61,310.09 331.64,311.37 331.66,284.78 331.68,294.98 331.70,295.35 331.73,295.39 331.75,291.64 331.77,334.00 331.80,334.00 331.82,334.00 331.84,291.16 331.87,300.75 331.89,301.44 331.91,299.30 331.93,285.51 331.96,282.11 331.98,295.59 332.00,290.01 332.03,295.43 332.05,296.89 332.07,303.44 332.09,298.52 332.12,290.75 332.14,296.27 332.16,296.73 332.18,282.60 332.21,287.26 332.23,312.13 332.25,291.09 332.28,283.22 332.30,286.75 332.32,294.80 332.34,297.63 332.37,294.72 332.39,289.29 332.41,291.22 332.43,294.93 332.46,303.85 332.48,279.43 332.50,282.65 332.52,275.61 332.55,295.44 332.57,301.18 332.59,286.20 332.61,300.76 332.64,281.94 332.66,297.73 332.68,296.72 332.70,285.94 332.72,299.29 332.75,280.33 332.77,299.90 332.79,293.25 332.81,308.80 332.84,284.73 332.86,285.89 332.88,299.49 332.90,294.96 332.93,289.11 332.95,286.13 332.97,281.97 332.99,306.04 333.01,288.61 333.04,289.39 333.06,293.31 333.08,282.76 333.10,296.37 333.12,292.25 333.15,276.49 333.17,294.28 333.19,297.71 333.21,295.43 333.23,297.29 333.26,290.43 333.28,293.60 333.30,289.00 333.32,283.22 333.34,299.33 333.37,292.12 333.39,292.54 333.41,296.08 333.43,279.20 333.45,282.71 333.48,287.54 333.50,289.58 333.52,287.94 333.54,284.30 333.56,290.50 333.59,287.93 333.61,294.57 333.63,288.65 333.65,287.47 333.67,294.41 333.69,289.06 333.72,281.96 333.74,303.98 333.76,280.85 333.78,299.31 333.80,286.57 333.82,288.80 333.85,292.59 333.87,295.43 333.89,284.60 333.91,289.56 333.93,298.40 333.95,305.43 333.98,290.93 334.00,296.78 334.02,303.82 334.04,276.62 334.06,275.58 334.08,287.52 334.10,285.88 334.13,289.16 334.15,295.04 334.17,281.54 334.19,323.72 334.21,300.37 334.23,277.69 334.25,299.45 334.28,297.77 334.30,308.21 334.32,286.76 334.34,293.92 334.36,289.83 334.38,302.87 334.40,289.95 334.42,310.95 334.45,281.20 334.47,313.98 334.49,298.22 334.51,283.84 334.53,279.39 334.55,286.17 334.57,307.21 334.59,300.61 334.62,282.75 334.64,292.75 334.66,289.61 334.68,284.26 334.70,283.73 334.72,299.36 334.74,287.37 334.76,295.56 334.78,297.55 334.80,293.38 334.83,285.76 334.85,296.72 334.87,327.54 334.89,287.50 334.91,289.11 334.93,298.19 334.95,292.74 334.97,286.86 334.99,287.82 335.01,280.66 335.04,302.60 335.06,280.57 335.08,284.79 335.10,287.31 335.12,293.83 335.14,293.35 335.16,281.03 335.18,277.43 335.20,294.26 335.22,294.20 335.24,296.62 335.26,297.85 335.29,294.33 335.31,288.73 335.33,289.14 335.35,285.82 335.37,299.28 335.39,294.90 335.41,304.28 335.43,289.00 335.45,297.15 335.47,300.58 335.49,291.44 335.51,288.44 335.53,286.03 335.55,297.24 335.57,284.28 335.59,296.52 335.62,293.53 335.64,292.01 335.66,282.89 335.68,294.68 335.70,296.27 335.72,283.85 335.74,279.87 335.76,291.69 335.78,284.60 335.80,298.72 335.82,283.07 335.84,294.07 335.86,288.81 335.88,288.39 335.90,294.08 335.92,300.26 335.94,288.65 335.96,294.63 335.98,301.02 336.00,316.73 336.02,287.53 336.04,283.52 336.06,297.98 336.08,298.34 336.10,295.15 336.12,286.80 336.14,292.80 336.17,297.81 336.19,306.48 336.21,285.69 336.23,294.37 336.25,287.58 336.27,289.82 336.29,297.98 336.31,290.07 336.33,284.13 336.35,283.42 336.37,294.60 336.39,285.18 336.41,285.38 336.43,289.16 336.45,284.87 336.47,280.72 336.49,289.05 336.51,302.73 336.53,278.91 336.55,278.30 336.57,298.01 336.59,293.67 336.61,295.77 336.63,282.91 336.65,309.59 336.67,295.97 336.69,297.45 336.71,299.39 336.73,305.78 336.75,295.67 336.77,287.86 336.79,294.87 336.81,290.71 336.83,297.71 336.85,282.40 336.87,290.43 336.88,297.94 336.90,286.64 336.92,284.61 336.94,301.13 336.96,293.68 336.98,293.60 337.00,284.94 337.02,299.69 337.04,316.85 337.06,286.06 337.08,284.79 337.10,284.15 337.12,285.88 337.14,295.55 337.16,305.02 337.18,286.29 337.20,293.14 337.22,286.59 337.24,301.54 337.26,300.41 337.28,290.98 337.30,294.64" fill="none" stroke="#111" stroke-width="0.5" stroke-linejoin="round" />
<path d="M65.5,207.5V351.5M349.5,207.5V351.5" stroke="#2a2a2a" stroke-width="1.05" fill="none"/>
<path d="M65.0,207.5H350.0M65.0,351.5H350.0" stroke="#6a6a6a" stroke-width="1" fill="none"/>
<path d="M66.80,351.5v-4.80M66.80,207.5v4.80M74.70,351.5v-2.40M74.70,207.5v2.40M82.60,351.5v-2.40M82.60,207.5v2.40M90.50,351.5v-2.40M90.50,207.5v2.40M98.40,351.5v-2.40M98.40,207.5v2.40M106.30,351.5v-2.40M106.30,207.5v2.40M114.20,351.5v-2.40M114.20,207.5v2.40M122.10,351.5v-2.40M122.10,207.5v2.40M130.00,351.5v-2.40M130.00,207.5v2.40M137.90,351.5v-2.40M137.90,207.5v2.40M145.80,351.5v-4.80M145.80,207.5v4.80M153.70,351.5v-2.40M153.70,207.5v2.40M161.60,351.5v-2.40M161.60,207.5v2.40M169.50,351.5v-2.40M169.50,207.5v2.40M177.40,351.5v-2.40M177.40,207.5v2.40M185.30,351.5v-2.40M185.30,207.5v2.40M193.20,351.5v-2.40M193.20,207.5v2.40M201.10,351.5v-2.40M201.10,207.5v2.40M209.00,351.5v-2.40M209.00,207.5v2.40M216.90,351.5v-2.40M216.90,207.5v2.40M224.80,351.5v-4.80M224.80,207.5v4.80M232.70,351.5v-2.40M232.70,207.5v2.40M240.60,351.5v-2.40M240.60,207.5v2.40M248.50,351.5v-2.40M248.50,207.5v2.40M256.40,351.5v-2.40M256.40,207.5v2.40M264.30,351.5v-2.40M264.30,207.5v2.40M272.20,351.5v-2.40M272.20,207.5v2.40M280.10,351.5v-2.40M280.10,207.5v2.40M288.00,351.5v-2.40M288.00,207.5v2.40M295.90,351.5v-2.40M295.90,207.5v2.40M303.80,351.5v-4.80M303.80,207.5v4.80M311.70,351.5v-2.40M311.70,207.5v2.40M319.60,351.5v-2.40M319.60,207.5v2.40M327.50,351.5v-2.40M327.50,207.5v2.40M335.40,351.5v-2.40M335.40,207.5v2.40M343.30,351.5v-2.40M343.30,207.5v2.40" stroke="#555" stroke-width="1.1" fill="none"/>
<path d="M65.5,349.50h7.70M349.5,349.50h-7.70M65.5,341.12h3.60M349.5,341.12h-3.60M65.5,332.75h3.60M349.5,332.75h-3.60M65.5,324.38h3.60M349.5,324.38h-3.60M65.5,316.00h7.70M349.5,316.00h-7.70M65.5,307.62h3.60M349.5,307.62h-3.60M65.5,299.25h3.60M349.5,299.25h-3.60M65.5,290.88h3.60M349.5,290.88h-3.60M65.5,282.50h7.70M349.5,282.50h-7.70M65.5,274.12h3.60M349.5,274.12h-3.60M65.5,265.75h3.60M349.5,265.75h-3.60M65.5,257.38h3.60M349.5,257.38h-3.60M65.5,249.00h7.70M349.5,249.00h-7.70M65.5,240.62h3.60M349.5,240.62h-3.60M65.5,232.25h3.60M349.5,232.25h-3.60M65.5,223.88h3.60M349.5,223.88h-3.60M65.5,215.50h7.70M349.5,215.50h-7.70" stroke="#666" stroke-width="1" fill="none"/>
<path d="M65.5,398.0V547.2M353.5,398.0V547.2" stroke="#2a2a2a" stroke-width="1.05" fill="none"/>
<path d="M65.0,398.0H354.0M65.0,547.2H354.0" stroke="#6a6a6a" stroke-width="1" fill="none"/>
<path d="M67.10,547.2v-5.00M67.10,398.0v5.00M75.12,547.2v-2.50M75.12,398.0v2.50M83.14,547.2v-2.50M83.14,398.0v2.50M91.16,547.2v-2.50M91.16,398.0v2.50M99.18,547.2v-2.50M99.18,398.0v2.50M107.20,547.2v-2.50M107.20,398.0v2.50M115.22,547.2v-2.50M115.22,398.0v2.50M123.24,547.2v-2.50M123.24,398.0v2.50M131.26,547.2v-2.50M131.26,398.0v2.50M139.28,547.2v-2.50M139.28,398.0v2.50M147.30,547.2v-5.00M147.30,398.0v5.00M155.32,547.2v-2.50M155.32,398.0v2.50M163.34,547.2v-2.50M163.34,398.0v2.50M171.36,547.2v-2.50M171.36,398.0v2.50M179.38,547.2v-2.50M179.38,398.0v2.50M187.40,547.2v-2.50M187.40,398.0v2.50M195.42,547.2v-2.50M195.42,398.0v2.50M203.44,547.2v-2.50M203.44,398.0v2.50M211.46,547.2v-2.50M211.46,398.0v2.50M219.48,547.2v-2.50M219.48,398.0v2.50M227.50,547.2v-5.00M227.50,398.0v5.00M235.52,547.2v-2.50M235.52,398.0v2.50M243.54,547.2v-2.50M243.54,398.0v2.50M251.56,547.2v-2.50M251.56,398.0v2.50M259.58,547.2v-2.50M259.58,398.0v2.50M267.60,547.2v-2.50M267.60,398.0v2.50M275.62,547.2v-2.50M275.62,398.0v2.50M283.64,547.2v-2.50M283.64,398.0v2.50M291.66,547.2v-2.50M291.66,398.0v2.50M299.68,547.2v-2.50M299.68,398.0v2.50M307.70,547.2v-5.00M307.70,398.0v5.00M315.72,547.2v-2.50M315.72,398.0v2.50M323.74,547.2v-2.50M323.74,398.0v2.50M331.76,547.2v-2.50M331.76,398.0v2.50M339.78,547.2v-2.50M339.78,398.0v2.50M347.80,547.2v-2.50M347.80,398.0v2.50" stroke="#555" stroke-width="1.1" fill="none"/>
<path d="M65.5,545.38h4.00M353.5,545.38h-4.00M65.5,542.95h4.00M353.5,542.95h-4.00M65.5,540.52h4.00M353.5,540.52h-4.00M65.5,538.09h4.00M353.5,538.09h-4.00M65.5,535.66h4.00M353.5,535.66h-4.00M65.5,533.23h4.00M353.5,533.23h-4.00M65.5,530.80h8.00M353.5,530.80h-8.00M65.5,528.37h4.00M353.5,528.37h-4.00M65.5,525.94h4.00M353.5,525.94h-4.00M65.5,523.51h4.00M353.5,523.51h-4.00M65.5,521.08h4.00M353.5,521.08h-4.00M65.5,518.65h4.00M353.5,518.65h-4.00M65.5,516.22h4.00M353.5,516.22h-4.00M65.5,513.79h4.00M353.5,513.79h-4.00M65.5,511.36h4.00M353.5,511.36h-4.00M65.5,508.93h4.00M353.5,508.93h-4.00M65.5,506.50h8.00M353.5,506.50h-8.00M65.5,504.07h4.00M353.5,504.07h-4.00M65.5,501.64h4.00M353.5,501.64h-4.00M65.5,499.21h4.00M353.5,499.21h-4.00M65.5,496.78h4.00M353.5,496.78h-4.00M65.5,494.35h4.00M353.5,494.35h-4.00M65.5,491.92h4.00M353.5,491.92h-4.00M65.5,489.49h4.00M353.5,489.49h-4.00M65.5,487.06h4.00M353.5,487.06h-4.00M65.5,484.63h4.00M353.5,484.63h-4.00M65.5,482.20h8.00M353.5,482.20h-8.00M65.5,479.77h4.00M353.5,479.77h-4.00M65.5,477.34h4.00M353.5,477.34h-4.00M65.5,474.91h4.00M353.5,474.91h-4.00M65.5,472.48h4.00M353.5,472.48h-4.00M65.5,470.05h4.00M353.5,470.05h-4.00M65.5,467.62h4.00M353.5,467.62h-4.00M65.5,465.19h4.00M353.5,465.19h-4.00M65.5,462.76h4.00M353.5,462.76h-4.00M65.5,460.33h4.00M353.5,460.33h-4.00M65.5,457.90h8.00M353.5,457.90h-8.00M65.5,455.47h4.00M353.5,455.47h-4.00M65.5,453.04h4.00M353.5,453.04h-4.00M65.5,450.61h4.00M353.5,450.61h-4.00M65.5,448.18h4.00M353.5,448.18h-4.00M65.5,445.75h4.00M353.5,445.75h-4.00M65.5,443.32h4.00M353.5,443.32h-4.00M65.5,440.89h4.00M353.5,440.89h-4.00M65.5,438.46h4.00M353.5,438.46h-4.00M65.5,436.03h4.00M353.5,436.03h-4.00M65.5,433.60h8.00M353.5,433.60h-8.00M65.5,431.17h4.00M353.5,431.17h-4.00M65.5,428.74h4.00M353.5,428.74h-4.00M65.5,426.31h4.00M353.5,426.31h-4.00M65.5,423.88h4.00M353.5,423.88h-4.00M65.5,421.45h4.00M353.5,421.45h-4.00M65.5,419.02h4.00M353.5,419.02h-4.00M65.5,416.59h4.00M353.5,416.59h-4.00M65.5,414.16h4.00M353.5,414.16h-4.00M65.5,411.73h4.00M353.5,411.73h-4.00M65.5,409.30h8.00M353.5,409.30h-8.00M65.5,406.87h4.00M353.5,406.87h-4.00M65.5,404.44h4.00M353.5,404.44h-4.00M65.5,402.01h4.00M353.5,402.01h-4.00M65.5,399.58h4.00M353.5,399.58h-4.00" stroke="#666" stroke-width="1" fill="none"/>
<line x1="81.60" y1="413.00" x2="164.80" y2="505.30" stroke="#222" stroke-width="0.9"/>
<line x1="81.60" y1="512.00" x2="336.90" y2="512.00" stroke="#999" stroke-width="1"/>
<path d="M152.00,475.80V505.80M149.80,475.80h4.4M149.80,505.80h4.4M164.80,491.00V494.60M162.60,491.00h4.4M162.60,494.60h4.4M171.20,507.80V510.80M169.00,507.80h4.4M169.00,510.80h4.4M177.60,486.30V504.20M175.40,486.30h4.4M175.40,504.20h4.4M184.00,493.60V527.00M181.80,493.60h4.4M181.80,527.00h4.4M190.40,494.00V500.60M188.20,494.00h4.4M188.20,500.60h4.4M196.80,502.00V511.60M194.60,502.00h4.4M194.60,511.60h4.4M203.20,477.40V490.00M201.00,477.40h4.4M201.00,490.00h4.4M209.60,496.00V530.00M207.40,496.00h4.4M207.40,530.00h4.4M216.00,502.40V522.00M213.80,502.40h4.4M213.80,522.00h4.4M222.40,488.00V512.40M220.20,488.00h4.4M220.20,512.40h4.4M228.80,488.60V519.60M226.60,488.60h4.4M226.60,519.60h4.4M235.20,490.60V509.40M233.00,490.60h4.4M233.00,509.40h4.4M241.60,489.40V519.00M239.40,489.40h4.4M239.40,519.00h4.4M248.00,492.60V512.60M245.80,492.60h4.4M245.80,512.60h4.4M254.40,495.40V523.00M252.20,495.40h4.4M252.20,523.00h4.4M260.80,503.40V525.60M258.60,503.40h4.4M258.60,525.60h4.4M267.20,503.60V527.40M265.00,503.60h4.4M265.00,527.40h4.4M273.60,501.40V528.40M271.40,501.40h4.4M271.40,528.40h4.4M280.00,500.40V527.40M277.80,500.40h4.4M277.80,527.40h4.4M286.40,502.00V525.00M284.20,502.00h4.4M284.20,525.00h4.4M292.80,504.40V526.40M290.60,504.40h4.4M290.60,526.40h4.4M299.20,508.00V533.60M297.00,508.00h4.4M297.00,533.60h4.4M305.60,513.60V544.00M303.40,513.60h4.4M303.40,544.00h4.4M312.00,514.00V540.00M309.80,514.00h4.4M309.80,540.00h4.4M318.40,512.40V540.00M316.20,512.40h4.4M316.20,540.00h4.4M324.80,514.40V541.00M322.60,514.40h4.4M322.60,541.00h4.4M331.20,514.40V540.40M329.00,514.40h4.4M329.00,540.40h4.4M337.60,512.40V537.40M335.40,512.40h4.4M335.40,537.40h4.4" stroke="#333" stroke-width="0.8" fill="none"/>
<path d="M81.60,410.30l0.00,-2.00M81.60,410.30l-2.85,-0.60M81.60,410.30l2.85,-0.60M81.60,410.30l-1.51,1.90M81.60,410.30l1.51,1.90M100.80,423.30l0.00,-2.00M100.80,423.30l-2.85,-0.60M100.80,423.30l2.85,-0.60M100.80,423.30l-1.51,1.90M100.80,423.30l1.51,1.90M113.60,454.80l0.00,-2.00M113.60,454.80l-2.85,-0.60M113.60,454.80l2.85,-0.60M113.60,454.80l-1.51,1.90M113.60,454.80l1.51,1.90M126.40,459.30l0.00,-2.00M126.40,459.30l-2.85,-0.60M126.40,459.30l2.85,-0.60M126.40,459.30l-1.51,1.90M126.40,459.30l1.51,1.90M132.80,477.70l0.00,-2.00M132.80,477.70l-2.85,-0.60M132.80,477.70l2.85,-0.60M132.80,477.70l-1.51,1.90M132.80,477.70l1.51,1.90M139.20,493.90l0.00,-2.00M139.20,493.90l-2.85,-0.60M139.20,493.90l2.85,-0.60M139.20,493.90l-1.51,1.90M139.20,493.90l1.51,1.90M145.60,488.80l0.00,-2.00M145.60,488.80l-2.85,-0.60M145.60,488.80l2.85,-0.60M145.60,488.80l-1.51,1.90M145.60,488.80l1.51,1.90M152.00,491.70l0.00,-2.00M152.00,491.70l-2.85,-0.60M152.00,491.70l2.85,-0.60M152.00,491.70l-1.51,1.90M152.00,491.70l1.51,1.90M158.40,492.60l0.00,-2.00M158.40,492.60l-2.85,-0.60M158.40,492.60l2.85,-0.60M158.40,492.60l-1.51,1.90M158.40,492.60l1.51,1.90M164.80,493.10l0.00,-2.00M164.80,493.10l-2.85,-0.60M164.80,493.10l2.85,-0.60M164.80,493.10l-1.51,1.90M164.80,493.10l1.51,1.90M171.20,510.10l0.00,-2.00M171.20,510.10l-2.85,-0.60M171.20,510.10l2.85,-0.60M171.20,510.10l-1.51,1.90M171.20,510.10l1.51,1.90M177.60,495.60l0.00,-2.00M177.60,495.60l-2.85,-0.60M177.60,495.60l2.85,-0.60M177.60,495.60l-1.51,1.90M177.60,495.60l1.51,1.90M184.00,511.30l0.00,-2.00M184.00,511.30l-2.85,-0.60M184.00,511.30l2.85,-0.60M184.00,511.30l-1.51,1.90M184.00,511.30l1.51,1.90M190.40,497.90l0.00,-2.00M190.40,497.90l-2.85,-0.60M190.40,497.90l2.85,-0.60M190.40,497.90l-1.51,1.90M190.40,497.90l1.51,1.90M196.80,507.90l0.00,-2.00M196.80,507.90l-2.85,-0.60M196.80,507.90l2.85,-0.60M196.80,507.90l-1.51,1.90M196.80,507.90l1.51,1.90M203.20,483.90l0.00,-2.00M203.20,483.90l-2.85,-0.60M203.20,483.90l2.85,-0.60M203.20,483.90l-1.51,1.90M203.20,483.90l1.51,1.90M209.60,513.30l0.00,-2.00M209.60,513.30l-2.85,-0.60M209.60,513.30l2.85,-0.60M209.60,513.30l-1.51,1.90M209.60,513.30l1.51,1.90M216.00,512.30l0.00,-2.00M216.00,512.30l-2.85,-0.60M216.00,512.30l2.85,-0.60M216.00,512.30l-1.51,1.90M216.00,512.30l1.51,1.90M222.40,500.70l0.00,-2.00M222.40,500.70l-2.85,-0.60M222.40,500.70l2.85,-0.60M222.40,500.70l-1.51,1.90M222.40,500.70l1.51,1.90M228.80,504.70l0.00,-2.00M228.80,504.70l-2.85,-0.60M228.80,504.70l2.85,-0.60M228.80,504.70l-1.51,1.90M228.80,504.70l1.51,1.90M235.20,500.70l0.00,-2.00M235.20,500.70l-2.85,-0.60M235.20,500.70l2.85,-0.60M235.20,500.70l-1.51,1.90M235.20,500.70l1.51,1.90M241.60,504.70l0.00,-2.00M241.60,504.70l-2.85,-0.60M241.60,504.70l2.85,-0.60M241.60,504.70l-1.51,1.90M241.60,504.70l1.51,1.90M248.00,503.30l0.00,-2.00M248.00,503.30l-2.85,-0.60M248.00,503.30l2.85,-0.60M248.00,503.30l-1.51,1.90M248.00,503.30l1.51,1.90M254.40,510.30l0.00,-2.00M254.40,510.30l-2.85,-0.60M254.40,510.30l2.85,-0.60M254.40,510.30l-1.51,1.90M254.40,510.30l1.51,1.90M260.80,514.70l0.00,-2.00M260.80,514.70l-2.85,-0.60M260.80,514.70l2.85,-0.60M260.80,514.70l-1.51,1.90M260.80,514.70l1.51,1.90M267.20,515.90l0.00,-2.00M267.20,515.90l-2.85,-0.60M267.20,515.90l2.85,-0.60M267.20,515.90l-1.51,1.90M267.20,515.90l1.51,1.90M273.60,515.30l0.00,-2.00M273.60,515.30l-2.85,-0.60M273.60,515.30l2.85,-0.60M273.60,515.30l-1.51,1.90M273.60,515.30l1.51,1.90M280.00,514.30l0.00,-2.00M280.00,514.30l-2.85,-0.60M280.00,514.30l2.85,-0.60M280.00,514.30l-1.51,1.90M280.00,514.30l1.51,1.90M286.40,513.90l0.00,-2.00M286.40,513.90l-2.85,-0.60M286.40,513.90l2.85,-0.60M286.40,513.90l-1.51,1.90M286.40,513.90l1.51,1.90M292.80,515.90l0.00,-2.00M292.80,515.90l-2.85,-0.60M292.80,515.90l2.85,-0.60M292.80,515.90l-1.51,1.90M292.80,515.90l1.51,1.90M299.20,521.30l0.00,-2.00M299.20,521.30l-2.85,-0.60M299.20,521.30l2.85,-0.60M299.20,521.30l-1.51,1.90M299.20,521.30l1.51,1.90M305.60,529.30l0.00,-2.00M305.60,529.30l-2.85,-0.60M305.60,529.30l2.85,-0.60M305.60,529.30l-1.51,1.90M305.60,529.30l1.51,1.90M312.00,527.70l0.00,-2.00M312.00,527.70l-2.85,-0.60M312.00,527.70l2.85,-0.60M312.00,527.70l-1.51,1.90M312.00,527.70l1.51,1.90M318.40,526.70l0.00,-2.00M318.40,526.70l-2.85,-0.60M318.40,526.70l2.85,-0.60M318.40,526.70l-1.51,1.90M318.40,526.70l1.51,1.90M324.80,528.30l0.00,-2.00M324.80,528.30l-2.85,-0.60M324.80,528.30l2.85,-0.60M324.80,528.30l-1.51,1.90M324.80,528.30l1.51,1.90M331.20,527.70l0.00,-2.00M331.20,527.70l-2.85,-0.60M331.20,527.70l2.85,-0.60M331.20,527.70l-1.51,1.90M331.20,527.70l1.51,1.90M337.60,525.30l0.00,-2.00M337.60,525.30l-2.85,-0.60M337.60,525.30l2.85,-0.60M337.60,525.30l-1.51,1.90M337.60,525.30l1.51,1.90" stroke="#222" stroke-width="0.85" fill="none"/>
<text x="106.08" y="7.30" font-size="8.45" textLength="202.86" lengthAdjust="spacingAndGlyphs" fill="#000" stroke="#000" stroke-width="0.14">212800574 Everest Light Curve</text>
<text x="23.83" y="23.20" font-size="8.90" textLength="35.33" lengthAdjust="spacingAndGlyphs" fill="#000" stroke="#000" stroke-width="0.14">1.190</text>
<text x="23.83" y="45.60" font-size="8.90" textLength="35.37" lengthAdjust="spacingAndGlyphs" fill="#000" stroke="#000" stroke-width="0.14">1.185</text>
<text x="23.83" y="68.00" font-size="8.90" textLength="35.33" lengthAdjust="spacingAndGlyphs" fill="#000" stroke="#000" stroke-width="0.14">1.180</text>
<text x="23.83" y="90.40" font-size="8.90" textLength="35.37" lengthAdjust="spacingAndGlyphs" fill="#000" stroke="#000" stroke-width="0.14">1.175</text>
<text x="23.83" y="112.80" font-size="8.90" textLength="35.33" lengthAdjust="spacingAndGlyphs" fill="#000" stroke="#000" stroke-width="0.14">1.170</text>
<text x="23.83" y="135.20" font-size="8.90" textLength="35.37" lengthAdjust="spacingAndGlyphs" fill="#000" stroke="#000" stroke-width="0.14">1.165</text>
<text x="105.38" y="161.20" font-size="8.75" textLength="32.09" lengthAdjust="spacingAndGlyphs" fill="#000" stroke="#000" stroke-width="0.14">2400</text>
<text x="177.04" y="161.20" font-size="8.75" textLength="32.09" lengthAdjust="spacingAndGlyphs" fill="#000" stroke="#000" stroke-width="0.14">2420</text>
<text x="248.71" y="161.20" font-size="8.75" textLength="32.09" lengthAdjust="spacingAndGlyphs" fill="#000" stroke="#000" stroke-width="0.14">2440</text>
<text x="320.38" y="161.20" font-size="8.75" textLength="32.09" lengthAdjust="spacingAndGlyphs" fill="#000" stroke="#000" stroke-width="0.14">2460</text>
<text x="163.93" y="172.10" font-size="8.30" textLength="87.30" lengthAdjust="spacingAndGlyphs" fill="#000" stroke="#000" stroke-width="0.14">BJD-2454833</text>
<text transform="translate(12.70,127.55) rotate(-90)" x="0" y="0" font-size="14.80" textLength="58.69" lengthAdjust="spacingAndGlyphs" fill="#000" stroke="#000" stroke-width="0.0">Flux [counts/s]</text>
<text transform="translate(12.70,66.19) rotate(-90)" x="0" y="0" font-size="14.80" textLength="5.57" lengthAdjust="spacingAndGlyphs" fill="#000" stroke="#000" stroke-width="0.0">X</text>
<text transform="translate(12.70,58.39) rotate(-90)" x="0" y="0" font-size="14.80" textLength="10.15" lengthAdjust="spacingAndGlyphs" fill="#000" stroke="#000" stroke-width="0.0">10</text>
<text transform="translate(12.70,47.04) rotate(-90)" x="0" y="0" font-size="14.80" textLength="4.09" lengthAdjust="spacingAndGlyphs" fill="#000" stroke="#000" stroke-width="0.0">^</text>
<text transform="translate(12.70,40.12) rotate(-90)" x="0" y="0" font-size="14.80" textLength="5.30" lengthAdjust="spacingAndGlyphs" fill="#000" stroke="#000" stroke-width="0.0">4</text>
<text x="136.20" y="202.00" font-size="8.00" textLength="142.08" lengthAdjust="spacingAndGlyphs" fill="#000" stroke="#000" stroke-width="0.14">212800574 Unbinned PSD</text>
<text x="47.02" y="219.60" font-size="8.20" textLength="12.83" lengthAdjust="spacingAndGlyphs" fill="#000" stroke="#000" stroke-width="0.14">10</text>
<text x="52.85" y="253.10" font-size="8.20" textLength="7.10" lengthAdjust="spacingAndGlyphs" fill="#000" stroke="#000" stroke-width="0.14">8</text>
<text x="52.74" y="286.60" font-size="8.20" textLength="7.24" lengthAdjust="spacingAndGlyphs" fill="#000" stroke="#000" stroke-width="0.14">6</text>
<text x="53.13" y="320.10" font-size="8.20" textLength="6.62" lengthAdjust="spacingAndGlyphs" fill="#000" stroke="#000" stroke-width="0.14">4</text>
<text x="52.74" y="353.60" font-size="8.20" textLength="7.32" lengthAdjust="spacingAndGlyphs" fill="#000" stroke="#000" stroke-width="0.14">2</text>
<text x="61.77" y="361.80" font-size="8.10" textLength="10.74" lengthAdjust="spacingAndGlyphs" fill="#000" stroke="#000" stroke-width="0.14">-7</text>
<text x="140.77" y="361.80" font-size="8.10" textLength="10.66" lengthAdjust="spacingAndGlyphs" fill="#000" stroke="#000" stroke-width="0.14">-6</text>
<text x="219.77" y="361.80" font-size="8.10" textLength="10.63" lengthAdjust="spacingAndGlyphs" fill="#000" stroke="#000" stroke-width="0.14">-5</text>
<text x="298.78" y="361.80" font-size="8.10" textLength="10.46" lengthAdjust="spacingAndGlyphs" fill="#000" stroke="#000" stroke-width="0.14">-4</text>
<text x="153.21" y="370.60" font-size="8.90" textLength="108.35" lengthAdjust="spacingAndGlyphs" fill="#000" stroke="#000" stroke-width="0.14">Log(Frequency(Hz))</text>
<text transform="translate(37.40,300.25) rotate(-90)" x="0" y="0" font-size="12.00" textLength="41.25" lengthAdjust="spacingAndGlyphs" fill="#000" stroke="#000" stroke-width="0.0">Log(Power)</text>
<text x="144.60" y="392.20" font-size="8.60" textLength="129.48" lengthAdjust="spacingAndGlyphs" fill="#000" stroke="#000" stroke-width="0.14">212800574 Binned PSD</text>
<text x="46.29" y="413.60" font-size="8.20" textLength="13.39" lengthAdjust="spacingAndGlyphs" fill="#000" stroke="#000" stroke-width="0.14">10</text>
<text x="52.37" y="437.90" font-size="8.20" textLength="7.46" lengthAdjust="spacingAndGlyphs" fill="#000" stroke="#000" stroke-width="0.14">9</text>
<text x="52.43" y="462.20" font-size="8.20" textLength="7.34" lengthAdjust="spacingAndGlyphs" fill="#000" stroke="#000" stroke-width="0.14">8</text>
<text x="52.31" y="486.50" font-size="8.20" textLength="7.58" lengthAdjust="spacingAndGlyphs" fill="#000" stroke="#000" stroke-width="0.14">7</text>
<text x="52.31" y="510.80" font-size="8.20" textLength="7.48" lengthAdjust="spacingAndGlyphs" fill="#000" stroke="#000" stroke-width="0.14">6</text>
<text x="52.48" y="535.10" font-size="8.20" textLength="7.27" lengthAdjust="spacingAndGlyphs" fill="#000" stroke="#000" stroke-width="0.14">5</text>
<text x="61.57" y="558.00" font-size="8.30" textLength="10.74" lengthAdjust="spacingAndGlyphs" fill="#000" stroke="#000" stroke-width="0.14">-7</text>
<text x="141.77" y="558.00" font-size="8.30" textLength="10.66" lengthAdjust="spacingAndGlyphs" fill="#000" stroke="#000" stroke-width="0.14">-6</text>
<text x="221.97" y="558.00" font-size="8.30" textLength="10.63" lengthAdjust="spacingAndGlyphs" fill="#000" stroke="#000" stroke-width="0.14">-5</text>
<text x="302.18" y="558.00" font-size="8.30" textLength="10.46" lengthAdjust="spacingAndGlyphs" fill="#000" stroke="#000" stroke-width="0.14">-4</text>
<text x="154.40" y="567.00" font-size="8.90" textLength="109.36" lengthAdjust="spacingAndGlyphs" fill="#000" stroke="#000" stroke-width="0.14">Log(Frequency(Hz))</text>
<text transform="translate(37.40,493.98) rotate(-90)" x="0" y="0" font-size="12.00" textLength="42.89" lengthAdjust="spacingAndGlyphs" fill="#000" stroke="#000" stroke-width="0.0">Log(Power)</text>
</svg>
</body></html>
